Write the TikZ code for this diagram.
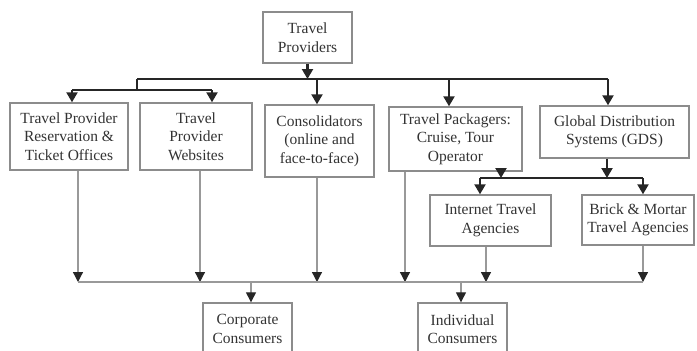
\documentclass[tikz,border=0pt]{standalone}
\usepackage{fontspec}
\setmainfont{Liberation Serif}
\usepackage{tikz}
\usetikzlibrary{arrows.meta}

\begin{document}
\begin{tikzpicture}[x=1pt,y=-1pt,
  box/.style={draw=black!45,line width=1.4pt,fill=white,text=black!80,align=center,
    font=\fontsize{15.5}{18.5}\selectfont,inner sep=0pt},
  bold/.style={draw=black!85,line width=2.2pt,-{Triangle[width=11pt,length=10pt]}},
  boldline/.style={draw=black!85,line width=2.2pt},
  thin/.style={draw=black!40,line width=1.3pt,-{Triangle[width=10pt,length=10pt,color=black!85]}},
  thinline/.style={draw=black!40,line width=1.3pt}]
\useasboundingbox (0,0) rectangle (697,351);
\begin{scope}
\clip (0,0) rectangle (697,351);
\node[box,minimum width=89pt,minimum height=51pt] (prov) at (307.5,37.5) {Travel\\Providers};
\node[box,minimum width=118pt,minimum height=67pt] (resv) at (69,136.5) {Travel Provider\\Reservation \&\\Ticket Offices};
\node[box,minimum width=112pt,minimum height=67pt] (web) at (196,136.5) {Travel\\Provider\\Websites};
\node[box,minimum width=109pt,minimum height=72pt] (cons) at (319.5,141) {Consolidators\\(online and\\face-to-face)};
\node[box,minimum width=133pt,minimum height=64pt] (pack) at (455.5,139) {Travel Packagers:\\Cruise, Tour\\Operator};
\node[box,minimum width=149pt,minimum height=52pt] (gds) at (614.5,132) {Global Distribution\\Systems (GDS)};
\node[box,minimum width=121pt,minimum height=51pt] (ita) at (490.5,220.5) {Internet Travel\\Agencies};
\node[box,minimum width=112pt,minimum height=50pt] (bma) at (638,220) {Brick \& Mortar\\Travel Agencies};
\node[box,minimum width=89pt,minimum height=52pt] (corp) at (247.5,329) {Corporate\\Consumers};
\node[box,minimum width=89pt,minimum height=52pt] (indiv) at (462.5,329) {Individual\\Consumers};
\end{scope}

\draw[bold] (prov.south) -- (prov.south |- 0,79);
\draw[boldline] (137,79) -- (608,79);
\draw[boldline] (137,79) -- (137,90);
\draw[boldline] (72,90) -- (212,90);
\foreach \x/\n in {72/resv,212/web}
\draw[bold] (\x,90) -- (\x,0 |- \n.north);
\foreach \x/\n in {317/cons,449/pack,608/gds}
\draw[bold] (\x,79) -- (\x,0 |- \n.north);

\draw[bold] (501,0 |- pack.south) -- (501,178);
\draw[bold] (607,0 |- gds.south) -- (607,178);
\draw[boldline] (480,178) -- (643,178);
\foreach \x/\n in {480/ita,643/bma}
\draw[bold] (\x,178) -- (\x,0 |- \n.north);

\foreach \x/\n in {78/resv,200/web,317/cons,405/pack,486/ita,643/bma}
\draw[thin] (\x,0 |- \n.south) -- (\x,282);
\draw[thinline] (78,282) -- (643,282);
\draw[thin] (251,282) -- (251,0 |- corp.north);
\draw[thin] (461,282) -- (461,0 |- indiv.north);
\end{tikzpicture}
\end{document}
